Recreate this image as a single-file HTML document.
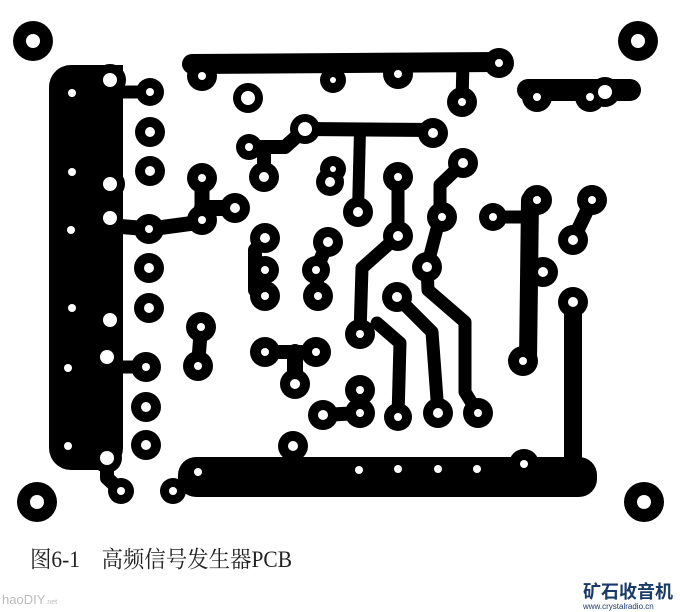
<!DOCTYPE html>
<html><head><meta charset="utf-8"><style>
html,body{margin:0;padding:0;background:#fff;width:680px;height:612px;overflow:hidden}
svg{position:absolute;left:0;top:0}
</style></head><body>
<svg width="680" height="612" viewBox="0 0 680 612" xmlns="http://www.w3.org/2000/svg">
<g fill="none" stroke="#000" stroke-linecap="round" stroke-linejoin="round">
 <path d="M192 64 L499 62" stroke-width="20"/>
 <path d="M463 62 L462 102" stroke-width="13"/>
 <path d="M528 90 L630 90" stroke-width="22"/>
 <path d="M115 92 L150 92" stroke-width="13"/>
 <path d="M115 226 L150 229 L202 222 L202 178" stroke-width="15"/>
 <path d="M202 208 L235 208" stroke-width="16"/>
 <path d="M115 367 L146 367" stroke-width="13"/>
 <path d="M107 458 L107 478 L121 491" stroke-width="14"/>
 <path d="M249 147 L285 147 L305 129 L433 130" stroke-width="14"/>
 <path d="M264 150 L264 177" stroke-width="14"/>
 <path d="M360 130 L358 212" stroke-width="12"/>
 <path d="M333 169 L330 182" stroke-width="14"/>
 <path d="M398 177 L398 236 L362 268 L360 334" stroke-width="13"/>
 <path d="M377 323 L400 343 L398 417" stroke-width="13"/>
 <path d="M397 297 L432 332 L438 413" stroke-width="13"/>
 <path d="M463 163 L440 185 L440 217 L427 267 L428 290 L465 322 L465 392 L478 413" stroke-width="13"/>
 <path d="M360 388 L360 413 L323 415" stroke-width="14"/>
 <path d="M201 327 L198 366" stroke-width="14"/>
 <path d="M265 238 L255 250 L255 290 L265 296" stroke-width="14"/>
 <path d="M328 242 L316 270 L318 296" stroke-width="14"/>
 <path d="M265 352 L316 352" stroke-width="14"/>
 <path d="M295 352 L295 384" stroke-width="16"/>
 <path d="M493 217 L530 217" stroke-width="13"/>
 <path d="M530 200 L528 361" stroke-width="18"/>
 <path d="M592 200 L573 240" stroke-width="14"/>
 <path d="M573 302 L573 480" stroke-width="18"/>
 <path d="M293 446 L293 470" stroke-width="14"/>
 <path d="M524 464 L524 478" stroke-width="14"/>
</g>
<rect x="49" y="65" width="74" height="405" rx="22" fill="#000"/>
<rect x="100" y="65" width="23" height="60" fill="#000"/>
<rect x="178" y="457" width="419" height="40" rx="18" fill="#000"/>
<g fill="#000">
<circle cx="33" cy="41" r="20"/><circle cx="638" cy="41" r="20"/>
<circle cx="37" cy="502" r="20"/><circle cx="644" cy="502" r="20"/>
</g>
<g fill="#fff">
<circle cx="33" cy="41" r="7"/><circle cx="638" cy="41" r="7"/>
<circle cx="37" cy="502" r="7"/><circle cx="644" cy="502" r="7"/>
</g>
<g fill="#000">
<circle cx="110" cy="80" r="16"/><circle cx="150" cy="92" r="14"/><circle cx="150" cy="132" r="15"/><circle cx="150" cy="171" r="15"/>
<circle cx="149" cy="229" r="15"/><circle cx="149" cy="268" r="15"/><circle cx="149" cy="308" r="15"/><circle cx="146" cy="367" r="15"/>
<circle cx="146" cy="407" r="15"/><circle cx="146" cy="445" r="15"/><circle cx="121" cy="491" r="13"/>
<circle cx="110" cy="184" r="15"/><circle cx="108" cy="320" r="15"/><circle cx="107" cy="458" r="15"/>
<circle cx="202" cy="76" r="15"/><circle cx="333" cy="80" r="13"/><circle cx="398" cy="74" r="15"/><circle cx="462" cy="102" r="15"/><circle cx="499" cy="63" r="15"/>
<circle cx="248" cy="98" r="15"/><circle cx="249" cy="147" r="13"/><circle cx="305" cy="129" r="15"/><circle cx="433" cy="133" r="15"/>
<circle cx="264" cy="177" r="15"/><circle cx="333" cy="169" r="13"/><circle cx="330" cy="182" r="14"/><circle cx="358" cy="212" r="15"/>
<circle cx="202" cy="178" r="15"/><circle cx="235" cy="208" r="15"/><circle cx="202" cy="220" r="15"/>
<circle cx="537" cy="97" r="15"/><circle cx="590" cy="97" r="15"/><circle cx="605" cy="92" r="15"/>
<circle cx="398" cy="177" r="15"/><circle cx="463" cy="163" r="15"/><circle cx="442" cy="217" r="15"/><circle cx="398" cy="236" r="15"/>
<circle cx="427" cy="267" r="15"/><circle cx="397" cy="297" r="15"/><circle cx="360" cy="334" r="15"/>
<circle cx="360" cy="390" r="15"/><circle cx="360" cy="413" r="15"/><circle cx="398" cy="417" r="14"/><circle cx="438" cy="413" r="15"/><circle cx="478" cy="413" r="15"/><circle cx="323" cy="415" r="15"/>
<circle cx="493" cy="217" r="14"/><circle cx="537" cy="200" r="15"/><circle cx="543" cy="272" r="15"/><circle cx="523" cy="361" r="15"/>
<circle cx="592" cy="200" r="15"/><circle cx="573" cy="240" r="15"/><circle cx="573" cy="302" r="15"/>
<circle cx="265" cy="238" r="15"/><circle cx="265" cy="270" r="14"/><circle cx="265" cy="296" r="15"/>
<circle cx="328" cy="242" r="15"/><circle cx="316" cy="270" r="14"/><circle cx="318" cy="296" r="15"/>
<circle cx="201" cy="327" r="15"/><circle cx="198" cy="366" r="15"/>
<circle cx="265" cy="352" r="15"/><circle cx="316" cy="352" r="15"/><circle cx="295" cy="384" r="15"/>
<circle cx="293" cy="446" r="15"/><circle cx="198" cy="472" r="14"/><circle cx="173" cy="491" r="13"/><circle cx="524" cy="464" r="15"/>
</g>
<g fill="#fff">
<circle cx="110" cy="80" r="7"/><circle cx="110" cy="184" r="7"/><circle cx="110" cy="218" r="7"/><circle cx="110" cy="320" r="7"/><circle cx="107" cy="357" r="7"/><circle cx="107" cy="458" r="7"/>
<circle cx="72" cy="93" r="4"/><circle cx="72" cy="172" r="4"/><circle cx="71" cy="230" r="4"/><circle cx="72" cy="308" r="4"/><circle cx="68" cy="368" r="4"/><circle cx="68" cy="446" r="4"/>
<circle cx="150" cy="92" r="4"/><circle cx="150" cy="132" r="5"/><circle cx="150" cy="171" r="5"/><circle cx="149" cy="229" r="4"/><circle cx="149" cy="268" r="5"/><circle cx="149" cy="308" r="5"/>
<circle cx="146" cy="367" r="4"/><circle cx="146" cy="407" r="5"/><circle cx="146" cy="445" r="5"/><circle cx="121" cy="491" r="4"/>
<circle cx="202" cy="76" r="4"/><circle cx="333" cy="80" r="3"/><circle cx="398" cy="74" r="4"/><circle cx="462" cy="102" r="4"/><circle cx="499" cy="63" r="4"/>
<circle cx="248" cy="98" r="7"/><circle cx="249" cy="147" r="4"/><circle cx="305" cy="129" r="7"/><circle cx="433" cy="133" r="5"/>
<circle cx="264" cy="177" r="5"/><circle cx="333" cy="169" r="3"/><circle cx="330" cy="182" r="5"/><circle cx="358" cy="212" r="5"/>
<circle cx="202" cy="178" r="4"/><circle cx="235" cy="208" r="5"/><circle cx="202" cy="220" r="4"/>
<circle cx="537" cy="97" r="4"/><circle cx="590" cy="97" r="4"/><circle cx="605" cy="92" r="7"/>
<circle cx="398" cy="177" r="4"/><circle cx="463" cy="163" r="5"/><circle cx="442" cy="217" r="4"/><circle cx="398" cy="236" r="5"/>
<circle cx="427" cy="267" r="5"/><circle cx="397" cy="297" r="5"/><circle cx="360" cy="334" r="4"/>
<circle cx="360" cy="390" r="4"/><circle cx="360" cy="413" r="4"/><circle cx="398" cy="417" r="4"/><circle cx="438" cy="413" r="5"/><circle cx="478" cy="413" r="4"/><circle cx="323" cy="415" r="5"/>
<circle cx="493" cy="217" r="4"/><circle cx="537" cy="200" r="4"/><circle cx="543" cy="272" r="5"/><circle cx="523" cy="361" r="4"/>
<circle cx="592" cy="200" r="4"/><circle cx="573" cy="240" r="5"/><circle cx="573" cy="302" r="5"/>
<circle cx="265" cy="238" r="5"/><circle cx="265" cy="270" r="4"/><circle cx="265" cy="296" r="4"/>
<circle cx="328" cy="242" r="5"/><circle cx="316" cy="270" r="4"/><circle cx="318" cy="296" r="4"/>
<circle cx="201" cy="327" r="4"/><circle cx="198" cy="366" r="4"/>
<circle cx="265" cy="352" r="4"/><circle cx="316" cy="352" r="4"/><circle cx="295" cy="384" r="5"/>
<circle cx="293" cy="446" r="5"/><circle cx="198" cy="472" r="4"/><circle cx="173" cy="491" r="4"/><circle cx="524" cy="464" r="4"/>
<circle cx="359" cy="470" r="4"/><circle cx="398" cy="469" r="4"/><circle cx="438" cy="469" r="4"/><circle cx="477" cy="469" r="4"/>
</g>
<text x="30" y="567" textLength="262" lengthAdjust="spacingAndGlyphs" font-family="'Liberation Serif','Noto Serif CJK SC',serif" font-size="23" fill="#222">图6-1　高频信号发生器PCB</text>
<text x="2" y="604" font-family="'Liberation Sans',sans-serif" font-size="13" fill="#bbb">haoDIY<tspan font-size="7">.net</tspan></text>
<text x="583" y="598" font-family="'Liberation Sans','Noto Sans CJK SC',sans-serif" font-size="18" font-weight="bold" fill="#1a3a6a">矿石收音机</text>
<text x="583" y="609" font-family="'Liberation Sans',sans-serif" font-size="8" fill="#1a3a6a">www.crystalradio.cn</text>
</svg>
</body></html>
